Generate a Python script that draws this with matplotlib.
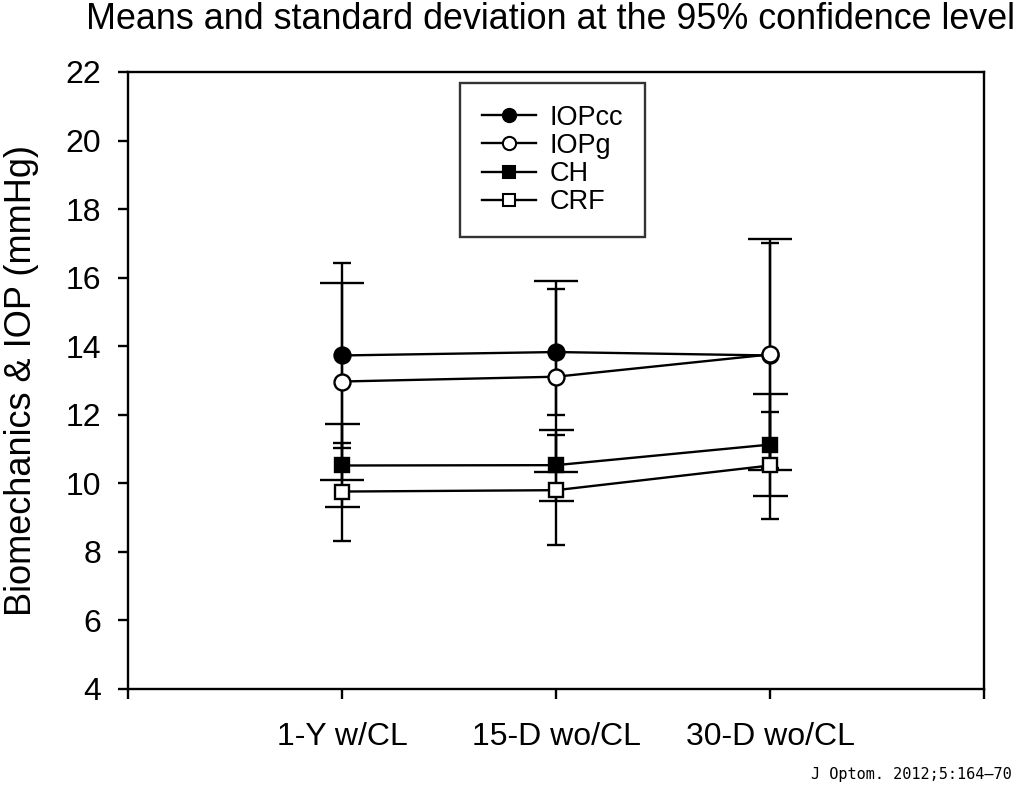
import matplotlib
matplotlib.use("Agg")
import matplotlib.pyplot as plt
from matplotlib.lines import Line2D

# === Data ===
conditions = ["1-Y w/CL", "15-D wo/CL", "30-D wo/CL"]
x_pos = [1, 2, 3]

iopcc_mean = [13.73, 13.83, 13.73]
iopcc_sd = [2.71, 1.85, 3.27]
iopg_mean = [12.97, 13.11, 13.76]
iopg_sd = [2.88, 2.79, 3.36]
ch_mean = [10.52, 10.53, 11.13]
ch_sd = [1.22, 1.04, 1.49]
crf_mean = [9.76, 9.80, 10.52]
crf_sd = [1.43, 1.61, 1.57]

plt.rcParams["font.family"] = ["Liberation Sans", "DejaVu Sans"]

fig = plt.figure(figsize=(10.24, 7.98), dpi=100)
ax = fig.add_axes([0.125, 0.1366, 0.836, 0.7732])

# (label, means, sd, marker, face colour, capsize)
series = [
    ("IOPcc", iopcc_mean, iopcc_sd, "o", "black", 6.5),
    ("IOPg", iopg_mean, iopg_sd, "o", "white", 15.8),
    ("CH", ch_mean, ch_sd, "s", "black", 12.6),
    ("CRF", crf_mean, crf_sd, "s", "white", 6.5),
]

handles = []
for i, (label, m, sd, mk, fc, cap) in enumerate(series):
    ms = 11.5 if mk == "o" else 10.5
    ax.errorbar(x_pos, m, yerr=sd, fmt="none", ecolor="black", elinewidth=1.7,
                capsize=cap, capthick=1.7, zorder=2 + i)
    ax.plot(x_pos, m, color="black", linewidth=1.7, marker=mk, markersize=ms,
            markerfacecolor=fc, markeredgecolor="black", markeredgewidth=1.7,
            zorder=3 + i)
    handles.append(Line2D([], [], color="black", linewidth=1.7, marker=mk,
                          markersize=9.5 if mk == "o" else 9, markerfacecolor=fc,
                          markeredgecolor="black", markeredgewidth=1.5, label=label))

ax.set_xlim(0, 4)
ax.set_ylim(4, 22)
ax.set_xticks([0, 1, 2, 3, 4])
ax.set_xticklabels([""] + conditions + [""])
ax.set_yticks(range(4, 23, 2))

for s in ax.spines.values():
    s.set_linewidth(1.7)
ax.tick_params(axis="both", direction="out", length=7.5, width=1.7, labelsize=23)
ax.tick_params(axis="y", pad=12)
ax.tick_params(axis="x", pad=16)

ax.set_ylabel("Biomechanics & IOP (mmHg)", fontsize=26)
ax.yaxis.set_label_coords(-0.104, 0.5)
fig.text(0.538, 0.975, "Means and standard deviation at the 95% confidence level",
         ha="center", va="center", fontsize=25.8)

leg = ax.legend(handles=handles, loc="upper center", bbox_to_anchor=(0.496, 0.982),
                fontsize=19.5, frameon=True, fancybox=False, handlelength=2.0,
                handletextpad=0.5, borderpad=0.8, labelspacing=0.08,
                borderaxespad=0)
leg.get_frame().set_edgecolor("black")
leg.get_frame().set_linewidth(1.7)

fig.text(0.988, 0.03, "J Optom. 2012;5:164\u201370", ha="right", va="center",
         fontsize=11, family="DejaVu Sans Mono")

fig.savefig("out.png", dpi=100)
